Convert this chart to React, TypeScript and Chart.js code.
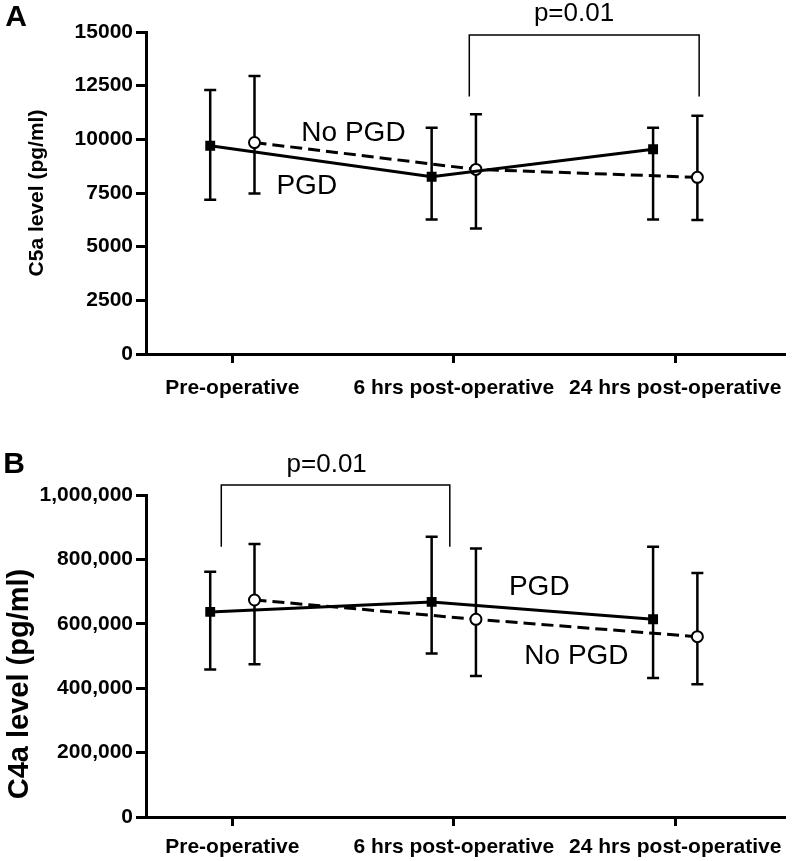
import React, { useEffect, useRef } from "react";
import { Chart, registerables } from "chart.js";

Chart.register(...registerables);

// ---- Data ----
const categories = ["Pre-operative", "6 hrs post-operative", "24 hrs post-operative"];

// Panel A: C5a (pg/ml)
const c5aPGD = [9700, 8260, 9540];
const c5aPGDUpper = [12300, 10540, 10540];
const c5aPGDLower = [7180, 6270, 6270];
const c5aNoPGD = [9850, 8600, 8230];
const c5aNoPGDUpper = [12950, 11170, 11100];
const c5aNoPGDLower = [7480, 5850, 6240];
const c5aTicks = [0, 2500, 5000, 7500, 10000, 12500, 15000];

// Panel B: C4a (pg/ml)
const c4aPGD = [637000, 668000, 614000];
const c4aPGDUpper = [762000, 870000, 839000];
const c4aPGDLower = [458000, 508000, 432000];
const c4aNoPGD = [674000, 614000, 560000];
const c4aNoPGDUpper = [848000, 834000, 758000];
const c4aNoPGDLower = [474000, 438000, 412000];
const c4aTicks = [0, 200000, 400000, 600000, 800000, 1000000];

const PGD_OFFSET = -0.1;
const NOPGD_OFFSET = 0.1;
const FONT = "'Liberation Sans', Arial, Helvetica, sans-serif";

type PanelCfg = {
  letter: string;
  letterX: number;
  letterY: number;
  yTitle: string;
  yTitleSize: number;
  yTitleX: number;
  yTitleY: number;
  ticks: number[];
  fmt: (v: number) => string;
  pgd: number[];
  pgdUp: number[];
  pgdLo: number[];
  nopgd: number[];
  nopgdUp: number[];
  nopgdLo: number[];
  pText: { x: number; y: number };
  bracket: { x0: number; x1: number; yTop: number; yEnd: number };
  labels: { text: string; x: number; y: number }[];
  canvasH: number;
  padTop: number;
  xAxisH: number;
  xLabelPad: number;
};

const panelA: PanelCfg = {
  letter: "A",
  letterX: 16,
  letterY: 18,
  yTitle: "C5a level (pg/ml)",
  yTitleSize: 21,
  yTitleX: 37,
  yTitleY: 193,
  ticks: c5aTicks,
  fmt: (v) => String(v),
  pgd: c5aPGD,
  pgdUp: c5aPGDUpper,
  pgdLo: c5aPGDLower,
  nopgd: c5aNoPGD,
  nopgdUp: c5aNoPGDUpper,
  nopgdLo: c5aNoPGDLower,
  pText: { x: 1.543, y: 15840 },
  bracket: { x0: 1.07, x1: 2.108, yTop: 14860, yEnd: 11990 },
  labels: [
    { text: "No PGD", x: 0.547, y: 10300 },
    { text: "PGD", x: 0.336, y: 7830 },
  ],
  canvasH: 430,
  padTop: 32,
  xAxisH: 76,
  xLabelPad: 13,
};

const panelB: PanelCfg = {
  letter: "B",
  letterX: 14,
  letterY: 35,
  yTitle: "C4a level (pg/ml)",
  yTitleSize: 29,
  yTitleX: 20,
  yTitleY: 254,
  ticks: c4aTicks,
  fmt: (v) => v.toLocaleString("en-US"),
  pgd: c4aPGD,
  pgdUp: c4aPGDUpper,
  pgdLo: c4aPGDLower,
  nopgd: c4aNoPGD,
  nopgdUp: c4aNoPGDUpper,
  nopgdLo: c4aNoPGDLower,
  pText: { x: 0.426, y: 1093000 },
  bracket: { x0: -0.05, x1: 0.982, yTop: 1031000, yEnd: 839000 },
  labels: [
    { text: "PGD", x: 1.386, y: 714000 },
    { text: "No PGD", x: 1.554, y: 500000 },
  ],
  canvasH: 431,
  padTop: 65,
  xAxisH: 44,
  xLabelPad: 9,
};

function makeChart(canvas: HTMLCanvasElement, cfg: PanelCfg) {
  const overlay = {
    id: "overlay-" + cfg.letter,
    beforeDatasetsDraw(chart: any) {
      const ctx = chart.ctx;
      const xs = chart.scales.x;
      const ys = chart.scales.y;
      ctx.save();
      ctx.strokeStyle = "#000";
      ctx.lineWidth = 2.5;
      const series = [
        { off: PGD_OFFSET, up: cfg.pgdUp, lo: cfg.pgdLo },
        { off: NOPGD_OFFSET, up: cfg.nopgdUp, lo: cfg.nopgdLo },
      ];
      series.forEach((s) => {
        s.up.forEach((u, i) => {
          const px = xs.getPixelForValue(i + s.off);
          const t = ys.getPixelForValue(u);
          const b = ys.getPixelForValue(s.lo[i]);
          ctx.beginPath();
          ctx.moveTo(px, t);
          ctx.lineTo(px, b);
          ctx.moveTo(px - 6, t);
          ctx.lineTo(px + 6, t);
          ctx.moveTo(px - 6, b);
          ctx.lineTo(px + 6, b);
          ctx.stroke();
        });
      });
      ctx.restore();
    },
    afterDraw(chart: any) {
      const ctx = chart.ctx;
      const xs = chart.scales.x;
      const ys = chart.scales.y;
      ctx.save();
      ctx.fillStyle = "#000";
      ctx.strokeStyle = "#000";
      ctx.font = `bold 30px ${FONT}`;
      ctx.textAlign = "center";
      ctx.textBaseline = "middle";
      ctx.fillText(cfg.letter, cfg.letterX, cfg.letterY);
      ctx.save();
      ctx.translate(cfg.yTitleX, cfg.yTitleY);
      ctx.rotate(-Math.PI / 2);
      ctx.font = `bold ${cfg.yTitleSize}px ${FONT}`;
      ctx.fillText(cfg.yTitle, 0, 0);
      ctx.restore();
      const bx0 = xs.getPixelForValue(cfg.bracket.x0);
      const bx1 = xs.getPixelForValue(cfg.bracket.x1);
      const byT = ys.getPixelForValue(cfg.bracket.yTop);
      const byE = ys.getPixelForValue(cfg.bracket.yEnd);
      ctx.lineWidth = 1.5;
      ctx.beginPath();
      ctx.moveTo(bx0, byE);
      ctx.lineTo(bx0, byT);
      ctx.lineTo(bx1, byT);
      ctx.lineTo(bx1, byE);
      ctx.stroke();
      ctx.font = `26px ${FONT}`;
      ctx.fillText("p=0.01", xs.getPixelForValue(cfg.pText.x), ys.getPixelForValue(cfg.pText.y));
      ctx.font = `28px ${FONT}`;
      cfg.labels.forEach((l) => {
        ctx.fillText(l.text, xs.getPixelForValue(l.x), ys.getPixelForValue(l.y));
      });
      ctx.restore();
    },
  };

  const tickFont = { family: FONT, size: 21, weight: "bold" as const };

  return new Chart(canvas, {
    type: "line",
    data: {
      datasets: [
        {
          label: "PGD",
          data: cfg.pgd.map((v, i) => ({ x: i + PGD_OFFSET, y: v })),
          borderColor: "#000",
          backgroundColor: "#000",
          borderWidth: 3,
          pointStyle: "rect",
          pointRadius: 7,
          pointBorderWidth: 0,
          pointBackgroundColor: "#000",
          tension: 0,
        },
        {
          label: "No PGD",
          data: cfg.nopgd.map((v, i) => ({ x: i + NOPGD_OFFSET, y: v })),
          borderColor: "#000",
          backgroundColor: "#fff",
          borderWidth: 3,
          borderDash: [12, 6],
          pointStyle: "circle",
          pointRadius: 5.5,
          pointBorderWidth: 2,
          pointBorderColor: "#000",
          pointBackgroundColor: "#fff",
          tension: 0,
        },
      ],
    },
    options: {
      responsive: false,
      maintainAspectRatio: false,
      animation: false,
      layout: { padding: { left: 0, right: 3, top: cfg.padTop, bottom: 0 } },
      plugins: {
        legend: { display: false },
        tooltip: { enabled: false },
        title: { display: false },
      },
      scales: {
        x: {
          type: "linear",
          min: -0.39,
          max: 2.498,
          afterBuildTicks: (scale: any) => {
            scale.ticks = categories.map((_, i) => ({ value: i }));
          },
          afterFit: (scale: any) => {
            scale.height = cfg.xAxisH;
            scale.paddingLeft = 0;
            scale.paddingRight = 0;
          },
          ticks: {
            autoSkip: false,
            maxRotation: 0,
            minRotation: 0,
            padding: cfg.xLabelPad,
            color: "#000",
            font: tickFont,
            callback: (v: any) => categories[Number(v)] ?? "",
          },
          grid: {
            drawOnChartArea: false,
            drawTicks: true,
            tickLength: 9,
            tickWidth: 3,
            tickColor: "#000",
          },
          border: { display: true, width: 3, color: "#000" },
        },
        y: {
          type: "linear",
          min: cfg.ticks[0],
          max: cfg.ticks[cfg.ticks.length - 1],
          afterBuildTicks: (scale: any) => {
            scale.ticks = cfg.ticks.map((v) => ({ value: v }));
          },
          afterFit: (scale: any) => {
            scale.width = 146;
            scale.paddingTop = 0;
            scale.paddingBottom = 0;
          },
          ticks: {
            padding: 3,
            color: "#000",
            font: tickFont,
            callback: (v: any) => cfg.fmt(Number(v)),
          },
          grid: {
            drawOnChartArea: false,
            drawTicks: true,
            tickLength: 10,
            tickWidth: 3,
            tickColor: "#000",
          },
          border: { display: true, width: 3, color: "#000" },
        },
      },
    },
    plugins: [overlay],
  } as any);
}

function Panel({ cfg, top }: { cfg: PanelCfg; top: number }) {
  const ref = useRef<HTMLCanvasElement | null>(null);
  useEffect(() => {
    if (!ref.current) return;
    const chart = makeChart(ref.current, cfg);
    return () => chart.destroy();
  }, [cfg]);
  return (
    <canvas
      ref={ref}
      width={793}
      height={cfg.canvasH}
      style={{ position: "absolute", left: 0, top, width: 793, height: cfg.canvasH, display: "block" }}
    />
  );
}

export default function App() {
  return (
    <div style={{ position: "absolute", left: 0, top: 0, width: 793, height: 861, background: "#fff", overflow: "hidden" }}>
      <Panel cfg={panelA} top={0} />
      <Panel cfg={panelB} top={430} />
    </div>
  );
}
